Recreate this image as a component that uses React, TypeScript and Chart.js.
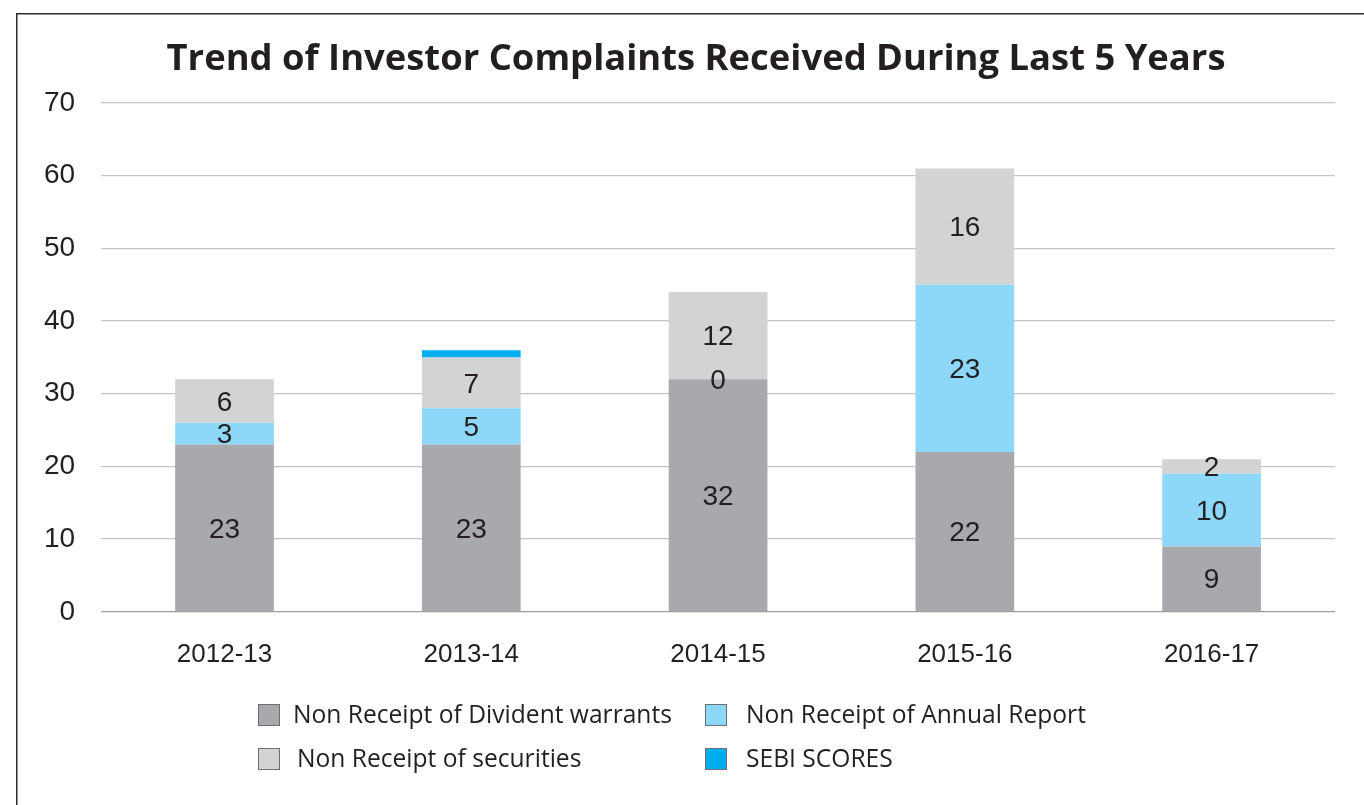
import React, { useEffect, useRef } from "react";
import { Chart, registerables } from "chart.js";

Chart.register(...registerables);

const TITLE = "Trend of Investor Complaints Received During Last 5 Years";
const categories = ["2012-13", "2013-14", "2014-15", "2015-16", "2016-17"];
const dividendWarrants = [23, 23, 32, 22, 9];
const annualReport = [3, 5, 0, 23, 10];
const securities = [6, 7, 12, 16, 2];
const sebiScores = [0, 1, 0, 0, 0];
const showLabels = [true, true, true, false];
const yTicks = [0, 10, 20, 30, 40, 50, 60, 70];

const TEXT = "#231f20";

const legendOrder = [0, 1, 2, 3];

const decorPlugin = {
  id: "decor",
  beforeDraw(chart: any) {
    const ctx = chart.ctx;
    ctx.save();
    ctx.fillStyle = "#ffffff";
    ctx.fillRect(0, 0, chart.width, chart.height);
    ctx.strokeStyle = "#2b2b2b";
    ctx.lineWidth = 1.5;
    ctx.beginPath();
    ctx.moveTo(16.75, chart.height + 5);
    ctx.lineTo(16.75, 13.75);
    ctx.lineTo(chart.width + 5, 13.75);
    ctx.stroke();
    ctx.restore();
  },
  afterDraw(chart: any) {
    const ctx = chart.ctx;
    ctx.save();
    // title
    ctx.fillStyle = TEXT;
    ctx.font = "bold 36.4px 'Open Sans'";
    ctx.textAlign = "center";
    ctx.textBaseline = "alphabetic";
    ctx.fillText(TITLE, 696, 70);

    // data labels
    ctx.font = "28px 'Liberation Sans', Arial, sans-serif";
    ctx.textBaseline = "middle";
    chart.data.datasets.forEach((ds: any, di: number) => {
      if (!showLabels[di]) return;
      const meta = chart.getDatasetMeta(di);
      meta.data.forEach((bar: any, i: number) => {
        const v = ds.data[i];
        const y = (bar.y + bar.base) / 2;
        ctx.fillText(String(v), bar.x, y + 2);
      });
    });

    // legend
    const cols = [258, 705];
    const rows = [715, 759];
    ctx.font = "24.6px 'Open Sans'";
    ctx.textAlign = "left";
    legendOrder.forEach((di, k) => {
      const ds = chart.data.datasets[di];
      const col = k % 2;
      const row = Math.floor(k / 2);
      const bx = cols[col];
      const by = rows[row] - 11;
      ctx.fillStyle = ds.backgroundColor;
      ctx.fillRect(bx, by, 22, 22);
      ctx.strokeStyle = "#6d6e71";
      ctx.lineWidth = 1;
      ctx.strokeRect(bx + 0.5, by + 0.5, 21, 21);
      ctx.fillStyle = TEXT;
      const tx = col === 0 ? (row === 0 ? bx + 35 : bx + 39) : bx + 41;
      ctx.fillText(ds.label, tx, rows[row] + 1);
    });
    ctx.restore();
  },
};

export default function App() {
  const ref = useRef<HTMLCanvasElement | null>(null);
  useEffect(() => {
    if (!ref.current) return;
    const chart = new Chart(ref.current, {
      type: "bar",
      data: {
        labels: categories,
        datasets: [
          { label: "Non Receipt of Divident warrants", data: dividendWarrants, backgroundColor: "#a7a9ac" },
          { label: "Non Receipt of Annual Report", data: annualReport, backgroundColor: "#8dd8f8" },
          { label: "Non Receipt of securities", data: securities, backgroundColor: "#d1d3d4" },
          { label: "SEBI SCORES", data: sebiScores, backgroundColor: "#00aeef" },
        ],
      },
      options: {
        responsive: false,
        animation: false,
        layout: { padding: { left: 18, right: 29, top: 103, bottom: 108 } },
        datasets: { bar: { categoryPercentage: 1, barPercentage: 0.4 } } as any,
        plugins: {
          legend: { display: false },
          tooltip: { enabled: false },
          title: { display: false },
        },
        scales: {
          x: {
            stacked: true,
            grid: { display: false, drawTicks: false },
            border: { display: false },
            ticks: {
              color: TEXT,
              padding: 27,
              font: { family: "'Liberation Sans', Arial, sans-serif", size: 26 },
            },
          },
          y: {
            stacked: true,
            min: 0,
            max: 70,
            afterBuildTicks: (axis: any) => {
              axis.ticks = yTicks.map((v) => ({ value: v }));
            },
            grid: {
              drawTicks: false,
              color: (c: any) => (c.tick && c.tick.value === 0 ? "#9d9d9d" : "#c4c4c4"),
              lineWidth: 1.3,
            },
            border: { display: false },
            ticks: {
              color: TEXT,
              padding: 26,
              font: { family: "'Liberation Sans', Arial, sans-serif", size: 28 },
            },
          },
        },
      },
      plugins: [decorPlugin],
    });
    return () => chart.destroy();
  }, []);
  return (
    <div style={{ position: "absolute", left: 0, top: 0, width: 1364, height: 805, background: "#fff" }}>
      <canvas ref={ref} width={1364} height={805} style={{ display: "block" }} />
    </div>
  );
}
